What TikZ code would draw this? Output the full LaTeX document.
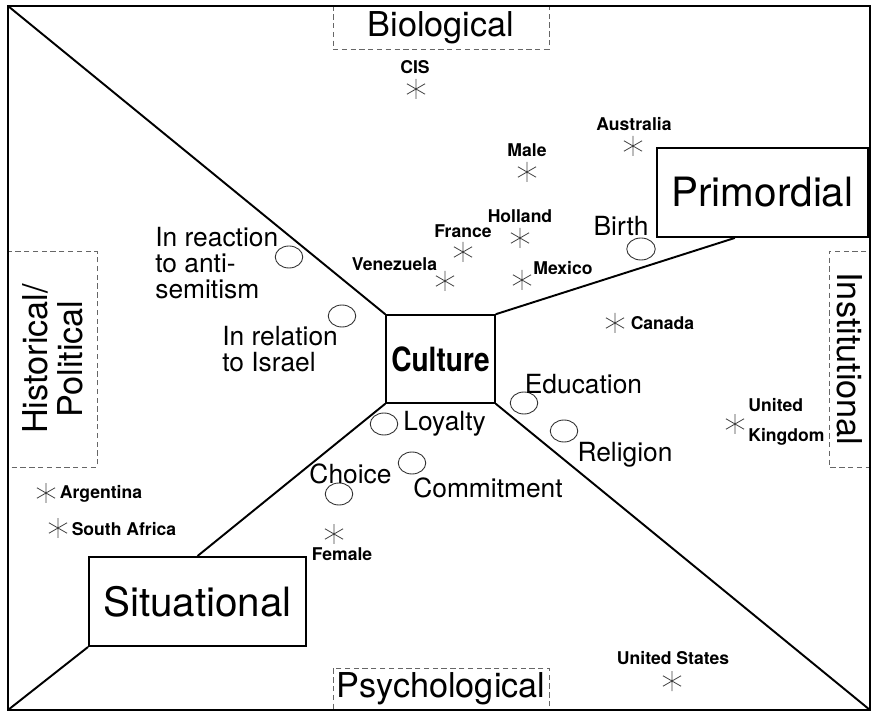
\documentclass[tikz,border=0pt]{standalone}
\usepackage{fontspec}
\setmainfont{TeX Gyre Heros}
\usetikzlibrary{shapes.geometric,calc}
\tikzset{
  mainbox/.style={draw, line width=1.1pt, inner sep=0pt},
  catbox/.style={draw=black!60, dash pattern=on 3pt off 2pt, line width=0.5pt, inner sep=0pt,
    font=\fontsize{19.5}{20}\selectfont, align=center},
  ring/.style={ellipse, draw=black!80, line width=0.5pt, minimum width=0.55cm,
    minimum height=0.44cm, inner sep=0pt},
  starmark/.style={minimum size=0.5cm, inner sep=0pt, path picture={
      \draw[black!75, line width=0.45pt]
        ([yshift=0.2cm]path picture bounding box.center) -- ([yshift=-0.2cm]path picture bounding box.center)
        ([shift={(30:0.21cm)}]path picture bounding box.center) -- ([shift={(210:0.21cm)}]path picture bounding box.center)
        ([shift={(150:0.21cm)}]path picture bounding box.center) -- ([shift={(330:0.21cm)}]path picture bounding box.center);}},
  country/.style={font=\bfseries\fontsize{10}{17}\selectfont, inner sep=0pt},
  factor/.style={font=\fontsize{15}{15}\selectfont, inner sep=0pt},
}
\begin{document}
\begin{tikzpicture}[x=0.02cm, y=-0.02cm]
          \useasboundingbox (0,0) rectangle (872,712);
          % frame corners
          \coordinate (tl) at (8,6);
          \coordinate (tr) at (870,6);
          \coordinate (bl) at (8,710);
          \coordinate (br) at (870,710);
          % dashed category boxes
          \node[catbox, minimum width=4.32cm, minimum height=0.86cm] (bio) at (441,27.5) {Biological};
          \node[catbox, minimum width=4.32cm, minimum height=0.84cm] (psy) at (441,689) {Psychological};
          \node[catbox, rotate=90, minimum width=4.32cm, minimum height=1.78cm] (hist) at (52.5,359) {Historical/\\Political};
          \node[catbox, rotate=-90, minimum width=4.32cm, minimum height=0.82cm] (inst) at (849.5,359) {Institutional};
          \draw[line width=1.1pt] (tl) rectangle (br);
          % main boxes
          \node[mainbox, line width=0.9pt, minimum width=2.18cm, minimum height=1.76cm] (cult) at (440.5,359)
            {\bfseries\fontsize{19}{19}\selectfont\scalebox{0.84}[1]{Culture}};
          \node[mainbox, fill=white, minimum width=4.22cm, minimum height=1.78cm, font=\fontsize{23}{23}\selectfont] (prim) at (762.5,192.5) {Primordial};
          \node[mainbox, minimum width=4.34cm, minimum height=1.78cm, font=\fontsize{23}{23}\selectfont] (sit) at (197.5,601.5) {Situational};
          \coordinate (primfoot) at ($(prim.south west)!0.37!(prim.south east)$);
          \draw[line width=1.1pt](cult.north west) -- (tl);
          \draw[line width=1.1pt](cult.north east) -- (primfoot);
          \draw[line width=1.1pt](cult.south west) -- (sit.north);
          \draw[line width=1.1pt](sit.south west) -- (bl);
          \draw[line width=1.1pt](cult.south east) -- (br);
          % rings and factors
          \node[ring] (reac) at (289,257){};
          \node[ring] (rela) at (342,316){};
          \node[ring, minimum width=0.57cm] (birth) at (641,249){};
          \node[ring] (loya) at (384,424){};
          \node[ring] (comm) at (412,463){};
          \node[ring] (choi) at (339,494){};
          \node[ring] (educ) at (524,403){};
          \node[ring] (reli) at (564,431){};
          \node[factor, anchor=west, align=left] (reactxt) at (155,263){In reaction\\to anti-\\semitism};
          \node[factor, anchor=west, align=left] (relatxt) at (222,349){In relation\\to Israel};
          \node[factor] (birthtxt) at (621,226){Birth};
          \node[factor, anchor=west] (loyatxt) at (403,424){Loyalty};
          \node[factor] (commtxt) at (488,488){Commitment};
          \node[factor] (choitxt) at (350.5,474){Choice};
          \node[factor] (eductxt) at (583.5,384){Education};
          \node[factor] (relitxt) at (625,455){Religion};
          % countries and groups
          \node[starmark] (cis) at (416,89){};
          \node[starmark] (aus) at (633,146){};
          \node[starmark] (male) at (527,172){};
          \node[starmark] (hol) at (520,238){};
          \node[starmark] (fra) at (463,252){};
          \node[starmark] (ven) at (445,281){};
          \node[starmark] (mex) at (522,280){};
          \node[starmark] (can) at (615,323){};
          \node[starmark] (uk) at (735,424){};
          \node[starmark] (us) at (672,681){};
          \node[starmark] (arg) at (46,493){};
          \node[starmark] (saf) at (58,528){};
          \node[starmark] (fem) at (334,534){};
          \node[country] (cistxt) at (415,67){CIS};
          \node[country] (austxt) at (634,124){Australia};
          \node[country] (maletxt) at (527,150){Male};
          \node[country] (holtxt) at (520,216){Holland};
          \node[country] (fratxt) at (463,231){France};
          \node[country] (ventxt) at (394.5,264){Venezuela};
          \node[country] (mextxt) at (563,268){Mexico};
          \node[country] (cantxt) at (662.5,323){Canada};
          \node[country, anchor=west, align=left] (uktxt) at (748,422){United\\Kingdom};
          \node[country] (ustxt) at (673,658){United States};
          \node[country] (argtxt) at (101,494){Argentina};
          \node[country] (saftxt) at (124,529){South Africa};
          \node[country] (femtxt) at (342,554){Female};
        \end{tikzpicture}
\end{document}
